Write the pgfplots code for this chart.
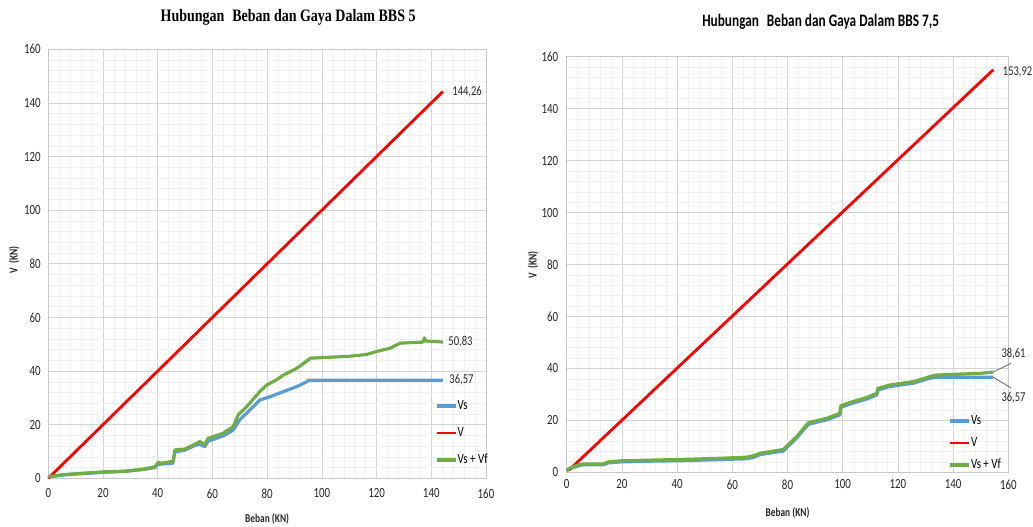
\documentclass[border=0pt]{standalone}
\usepackage{pgfplots}
\pgfplotsset{compat=1.18}
\usepackage{fontspec}
\setmainfont{Carlito}[FakeStretch=0.78]
\newfontfamily\titleserif{Liberation Serif}[FakeStretch=0.80]
\newfontfamily\titlesans{Carlito}[FakeStretch=0.76]
\definecolor{vsblue}{HTML}{5B9BD5}
\definecolor{vred}{HTML}{FF0000}
\definecolor{vgreen}{HTML}{70AD47}
\pgfplotsset{
  base/.style={
    scale only axis, clip=false,
    xmin=0, xmax=160, ymin=0, ymax=160,
    xtick={0,20,...,160}, ytick={0,20,...,160},
    minor tick num=4, grid=both,
    major grid style={black!17, line width=0.6pt},
    minor grid style={black!6, line width=0.5pt},
    axis line style={black!22, line width=0.8pt},
    major tick length=0pt, minor tick length=0pt,
    /pgf/number format/assume math mode=true,
    ticklabel style={font=\fontsize{14}{15}\selectfont, text=black!85},
    label style={font=\bfseries\fontsize{12}{13}\selectfont, text=black!85},
    legend image code/.code={\draw[##1] (0pt,0pt) -- (19pt,0pt);},
    legend cell align=left,
    every axis plot/.append style={line join=round},
  },
}
\begin{document}
\begin{tikzpicture}
\useasboundingbox (0pt,0pt) rectangle (1033pt,527pt);
% ---------------- Left chart
\begin{axis}[base,
  width=437.7pt, height=429pt, at={(48.3pt,48.7pt)}, anchor=south west,
  yticklabel style={xshift=-4pt},
  xticklabel style={yshift=-7pt},
  xlabel={Beban (KN)}, ylabel={V\ \ (KN)},
  xlabel style={at={(rel axis cs:0.5,-0.095)}, anchor=center},
  ylabel style={at={(rel axis cs:-0.078,0.509)}, anchor=center, rotate=0},
  legend style={draw=none, fill=none, inner sep=0pt,
    at={(axis cs:141.3,16.9)}, anchor=west,
    font=\fontsize{14}{15}\selectfont,
    nodes={inner sep=0.5pt, text height=10pt, text depth=3pt},
    /tikz/every even column/.append style={column sep=0pt},
    row sep=13pt},
]
\addplot[vsblue, line width=3.2pt] coordinates {
(0,0.5) (5,1.2) (10,1.6) (20,2.2) (28,2.6) (34,3.2) (39,4.0) (40,5.2) (45.5,5.6)
(46.2,9.8) (50,10.5) (53,12) (55.4,12.8) (57.2,11.8) (58.4,13.8) (63.9,15.8) (66,17)
(67.6,18) (70,21.8) (73.7,25.5) (77.3,29.2) (81,30.4) (85.9,32.3) (90.8,34.2)
(94.5,36) (95,36.57) (144.26,36.57)};
\addlegendentry{Vs}
\addplot[vred, line width=2.8pt] coordinates {(0,0) (144.26,144.26)};
\addlegendentry{V}
\addplot[vgreen, line width=3.2pt] coordinates {
(0,0.6) (5,1.3) (10,1.7) (20,2.4) (28.6,2.7) (34.7,3.4) (39,4.3) (40.2,6.0) (41,5.6)
(45.7,6.3) (46.3,10.6) (50,10.9) (53,12.4) (55.4,13.7) (57.2,12.6) (58.4,14.9)
(63.9,16.8) (67.6,19.3) (69.4,23.6) (72.5,26.7) (77.3,32.3) (79.8,34.8) (83.4,36.7)
(85.9,38.5) (90.8,41) (95,44.1) (95.7,44.8) (104,45.2) (110,45.5) (116.4,46.2)
(120,47.3) (124.9,48.5) (128.6,50.4) (137,50.8) (137.5,52.4) (138,51.2) (144.26,50.83)};
\addlegendentry{Vs + Vf}
\node[anchor=west, font=\fontsize{13.5}{14}\selectfont, text=black!85] at (axis cs:144.26,144.26) [xshift=6pt] {144,26};
\node[anchor=west, font=\fontsize{13.5}{14}\selectfont, text=black!85] at (axis cs:144.26,50.83) [xshift=2pt] {50,83};
\node[anchor=west, font=\fontsize{13.5}{14}\selectfont, text=black!85] at (axis cs:144.26,36.57) [xshift=3pt] {36,57};
\node[font=\titleserif\bfseries\fontsize{17.5}{18}\selectfont] at (rel axis cs:0.548,1.075) {Hubungan\hspace{0.45em}Beban dan Gaya Dalam BBS 5};
\end{axis}
% ---------------- Right chart
\begin{axis}[base,
  width=441.6pt, height=415.6pt, at={(566.7pt,54.7pt)}, anchor=south west,
  yticklabel style={xshift=-5pt},
  xticklabel style={yshift=-4pt},
  xlabel={Beban (KN)}, ylabel={V\ \ (KN)},
  xlabel style={at={(rel axis cs:0.5,-0.098)}, anchor=center},
  ylabel style={at={(rel axis cs:-0.076,0.499)}, anchor=center, rotate=0},
  legend style={draw=none, fill=none, inner sep=0pt,
    at={(axis cs:138.2,11.3)}, anchor=west,
    font=\fontsize{14}{15}\selectfont,
    nodes={inner sep=0.5pt, text height=10pt, text depth=3pt},
    /tikz/every even column/.append style={column sep=0pt},
    row sep=8pt},
]
\addplot[vsblue, line width=3.2pt] coordinates {
(0,0.6) (1.5,1.5) (4.6,2.6) (6,2.9) (13.3,2.9) (15,3.6) (19.3,4.0) (31,4.3) (43.5,4.5)
(55.6,4.9) (65,5.2) (67.6,5.7) (70,6.8) (78.5,8.2) (83.3,13.2) (87.6,18.5) (94.2,20.2)
(99,22.1) (99.3,25.0) (102.7,26.3) (108.7,28.2) (112.3,29.8) (112.8,31.7) (117,33.0)
(125.6,34.3) (131.6,36.2) (133.5,36.57) (154.6,36.57)};
\addlegendentry{Vs}
\addplot[vred, line width=2.8pt] coordinates {(0.8,0.8) (154.6,155)};
\addlegendentry{V}
\addplot[vgreen, line width=3.2pt] coordinates {
(0,0.8) (1.5,1.8) (4.6,2.9) (6,3.2) (13.3,3.2) (15,4.0) (19.3,4.4) (31,4.7) (43.5,5.0)
(55.6,5.4) (65,5.8) (67.6,6.3) (70,7.3) (78.5,8.8) (83.3,13.7) (87.6,19.1) (94.2,20.8)
(99,22.7) (99.3,25.6) (102.7,26.9) (108.7,28.8) (112.3,30.4) (112.8,32.3) (117,33.6)
(125.6,34.9) (131.6,36.8) (133.5,37.4) (140,37.7) (150,38.1) (154.6,38.61)};
\addlegendentry{Vs + Vf}
\node[anchor=west, font=\fontsize{13.5}{14}\selectfont, text=black!85] at (axis cs:154.6,155) [xshift=6pt,yshift=-2pt] {153,92};
\draw[black!60, line width=0.8pt] (axis cs:154.6,38.61) -- (axis cs:161.0,42.0);
\draw[black!60, line width=0.8pt] (axis cs:154.6,36.57) -- (axis cs:161.0,32.5);
\node[font=\fontsize{13.5}{14}\selectfont, text=black!85] at (axis cs:161.9,45.5) {38,61};
\node[font=\fontsize{13.5}{14}\selectfont, text=black!85] at (axis cs:161.9,28.5) {36,57};
\node[font=\titlesans\bfseries\fontsize{17.5}{18}\selectfont] at (rel axis cs:0.575,1.085) {Hubungan\hspace{0.45em}Beban dan Gaya Dalam BBS 7,5};
\end{axis}
\end{tikzpicture}
\end{document}
